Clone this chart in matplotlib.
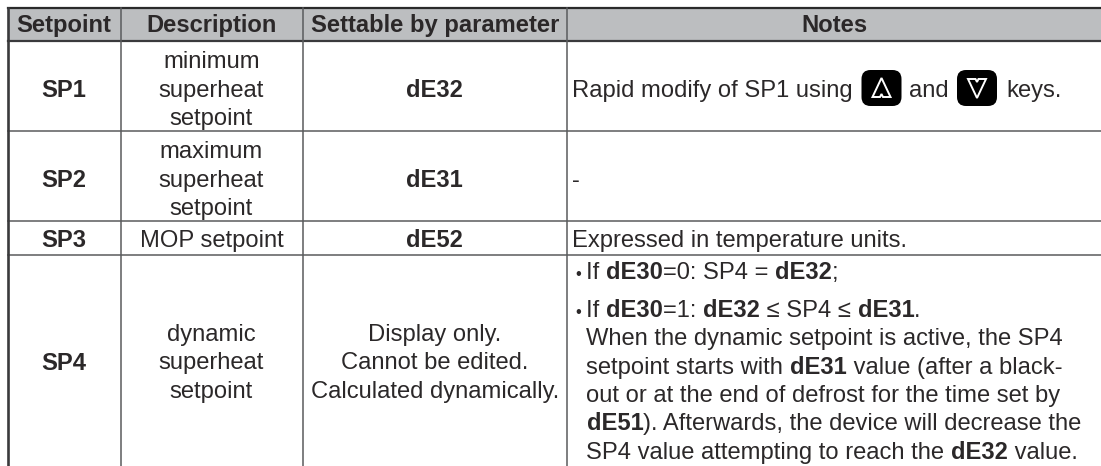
import matplotlib
matplotlib.use("Agg")
import matplotlib.pyplot as plt
from matplotlib.patches import FancyBboxPatch, Polygon, Rectangle

plt.rcParams['font.family'] = ['Liberation Sans', 'DejaVu Sans']

# Table content
headers = ["Setpoint", "Description", "Settable by parameter", "Notes"]
setpoints = ["SP1", "SP2", "SP3", "SP4"]
descriptions = [["minimum", "superheat", "setpoint"],
                ["maximum", "superheat", "setpoint"],
                ["MOP setpoint"],
                ["dynamic", "superheat", "setpoint"]]
parameters = [["dE32"], ["dE31"], ["dE52"],
              ["Display only.", "Cannot be edited.", "Calculated dynamically."]]
parameter_bold = [True, True, True, False]

# Notes: list of lines, each line is a list of (text, bold) runs
note_sp1 = [[("Rapid modify of SP1 using", False)], [("and", False)], [("keys.", False)]]
note_sp2 = [("-", False)]
note_sp3 = [("Expressed in temperature units.", False)]
note_sp4 = [
    [("If ", False), ("dE30", True), ("=0: SP4 = ", False), ("dE32", True), (";", False)],
    [("If ", False), ("dE30", True), ("=1: ", False), ("dE32", True), (" \u2264 SP4 \u2264 ", False), ("dE31", True), (".", False)],
    [("When the dynamic setpoint is active, the SP4", False)],
    [("setpoint starts with ", False), ("dE31", True), (" value (after a black-", False)],
    [("out or at the end of defrost for the time set by", False)],
    [("dE51", True), ("). Afterwards, the device will decrease the", False)],
    [("SP4 value attempting to reach the ", False), ("dE32", True), (" value.", False)],
]

# Layout in image pixels
W, H = 1101, 466
col_x = [7.5, 120.5, 302.5, 567, W]
row_y = [8, 41, 131, 221, 254.5, H]
text_color = "#2b2829"
line_color = "#5a5b5d"
font_size = 17.1

fig = plt.figure(figsize=(W / 100, H / 100), dpi=100)
ax = fig.add_axes([0, 0, 1, 1])
ax.set_xlim(0, W)
ax.set_ylim(H, 0)
ax.axis("off")
renderer = fig.canvas.get_renderer()


def run_width(s, bold):
    # bar on both sides so that spaces at the ends are counted
    t = ax.text(0, 0, "|" + s + "|", fontsize=font_size, fontweight="bold" if bold else "normal")
    w = t.get_window_extent(renderer).width
    t.set_text("||")
    w -= t.get_window_extent(renderer).width
    t.remove()
    return w


def draw_runs(x, y, runs):
    for s, bold in runs:
        ax.text(x, y, s, fontsize=font_size, color=text_color, va="baseline", ha="left",
                fontweight="bold" if bold else "normal")
        x += run_width(s, bold)
    return x


def draw_key(cx, cy, up):
    box = FancyBboxPatch((cx - 14, cy - 12), 28, 24, boxstyle="round,pad=6,rounding_size=9",
                         fc="black", ec="none", zorder=3)
    ax.add_patch(box)
    d = 1 if up else -1
    tri = [(cx, cy - 10 * d), (cx + 9, cy + 9 * d), (cx + 1.5, cy + 9 * d), (cx, cy + 6 * d),
           (cx - 1.5, cy + 9 * d), (cx - 9, cy + 9 * d)]
    ax.add_patch(Polygon(tri, closed=True, fc="none", ec="white", lw=1.4, zorder=4))


# header band and grid
ax.add_patch(Rectangle((col_x[0], row_y[0]), W - col_x[0], row_y[1] - row_y[0], fc="#bcbec0", ec="none"))
ax.plot([col_x[0], W], [row_y[0], row_y[0]], color="#2a2a2a", lw=1.6)
ax.plot([col_x[0], W], [row_y[1], row_y[1]], color="#3a3a3c", lw=1.6)
for y in row_y[2:5]:
    ax.plot([col_x[0], W], [y, y], color=line_color, lw=1.1)
ax.plot([col_x[0], col_x[0]], [row_y[0], H], color="#3a3a3c", lw=1.9)
for x in col_x[1:4]:
    ax.plot([x, x], [row_y[0], H], color=line_color, lw=1.1)

# header text
centers = [(col_x[i] + col_x[i + 1]) / 2 for i in range(4)]
for cx, label in zip(centers, headers):
    ax.text(cx, 32, label, ha="center", va="baseline", fontsize=font_size, fontweight="bold", color=text_color)

# first three columns
block_base = [[68, 97, 125], [158, 187, 215], [247], [341, 369, 398]]
sp_base = [97, 187, 247, 370]
for i, sp in enumerate(setpoints):
    ax.text(centers[0], sp_base[i], sp, ha="center", va="baseline", fontsize=font_size,
            fontweight="bold", color=text_color)
    for line, y in zip(descriptions[i], block_base[i]):
        ax.text(centers[1], y, line, ha="center", va="baseline", fontsize=font_size, color=text_color)
    par_y = block_base[i] if not parameter_bold[i] else [sp_base[i]]
    for line, y in zip(parameters[i], par_y):
        ax.text(centers[2], y, line, ha="center", va="baseline", fontsize=font_size, color=text_color,
                fontweight="bold" if parameter_bold[i] else "normal")

# notes
note_x = 572
draw_runs(note_x, 97, note_sp1[0])
draw_key(881.5, 88, True)
draw_runs(909, 97, note_sp1[1])
draw_key(977, 88, False)
draw_runs(1006, 97, note_sp1[2])
draw_runs(note_x, 187, note_sp2)
draw_runs(note_x, 247, note_sp3)

note_base = [279, 317, 345, 374, 402, 430, 459]
for n, (line, y) in enumerate(zip(note_sp4, note_base)):
    if n < 2:
        ax.text(578, y, "\u2022", fontsize=12, ha="center", va="baseline", color=text_color)
    draw_runs(586.5, y, line)

fig.savefig("out.png", dpi=100)
